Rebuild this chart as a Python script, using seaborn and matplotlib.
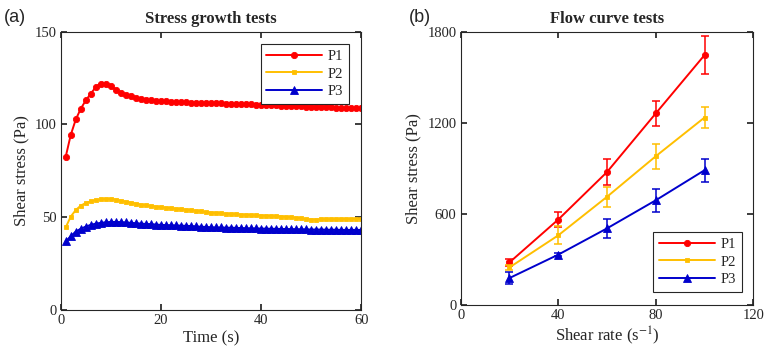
import numpy as np
import pandas as pd
import matplotlib
matplotlib.use("Agg")
import matplotlib.pyplot as plt
import seaborn as sns

# ---- stress growth data (shear stress in Pa, sampled every second) ----
time_s = list(range(1, 61))
p1_growth = [82.7, 94.4, 102.7, 108.5, 113.0, 116.6, 120.2, 122.0, 122.0, 120.6,
             118.8, 117.0, 116.1, 115.3, 114.4, 113.5, 113.2, 113.0, 112.8, 112.6,
             112.4, 112.2, 112.1, 112.0, 111.9, 111.8, 111.7, 111.6, 111.6, 111.5,
             111.4, 111.4, 111.3, 111.2, 111.1, 111.0, 110.9, 110.8, 110.7, 110.6,
             110.5, 110.4, 110.3, 110.2, 110.0, 109.9, 109.8, 109.7, 109.6, 109.5,
             109.4, 109.3, 109.3, 109.2, 109.1, 109.0, 109.0, 108.9, 108.9, 108.8]
p2_growth = [44.6, 50.4, 53.9, 56.3, 57.7, 58.6, 59.3, 59.6, 59.8, 59.8,
             59.5, 58.9, 58.4, 57.9, 57.3, 56.8, 56.4, 56.1, 55.7, 55.4,
             55.1, 54.8, 54.6, 54.3, 54.1, 53.8, 53.5, 53.2, 52.8, 52.5,
             52.3, 52.1, 51.9, 51.8, 51.6, 51.4, 51.3, 51.2, 51.0, 50.9,
             50.8, 50.6, 50.5, 50.4, 50.2, 50.0, 49.7, 49.4, 49.0, 48.8,
             48.8, 48.9, 48.9, 48.9, 48.9, 49.0, 49.0, 49.0, 49.1, 49.1]
p3_growth = [37.0, 39.8, 42.3, 43.8, 45.0, 45.9, 46.6, 47.0, 47.3, 47.5,
             47.5, 47.4, 47.2, 47.0, 46.8, 46.6, 46.4, 46.3, 46.1, 45.9,
             45.8, 45.7, 45.6, 45.5, 45.4, 45.3, 45.1, 44.9, 44.8, 44.6,
             44.5, 44.5, 44.4, 44.4, 44.3, 44.2, 44.1, 44.0, 44.0, 43.9,
             43.9, 43.8, 43.8, 43.7, 43.7, 43.6, 43.6, 43.5, 43.5, 43.4,
             43.4, 43.4, 43.3, 43.3, 43.3, 43.2, 43.2, 43.2, 43.2, 43.2]

# ---- flow curve data (mean and standard deviation, Pa) ----
shear_rate = [20, 40, 60, 80, 100]
p1_flow = [281, 563, 876, 1262, 1646]
p1_err = [25, 47, 85, 82, 125]
p2_flow = [248, 459, 713, 980, 1235]
p2_err = [15, 60, 64, 82, 72]
p3_flow = [178, 332, 505, 690, 888]
p3_err = [38, 12, 65, 76, 77]

series = ["P1", "P2", "P3"]
colors = {"P1": "#ff0000", "P2": "#ffbf00", "P3": "#0000cc"}
markers = {"P1": "o", "P2": "s", "P3": "^"}
msizes = {"P1": 4.5, "P2": 3.5, "P3": 5.5}

growth = pd.concat([
    pd.DataFrame({"t": time_s, "stress": v, "sample": s})
    for s, v in zip(series, [p1_growth, p2_growth, p3_growth])
])
flow = pd.concat([
    pd.DataFrame({"rate": shear_rate, "stress": v, "err": e, "sample": s})
    for s, v, e in zip(series, [p1_flow, p2_flow, p3_flow],
                       [p1_err, p2_err, p3_err])
])

sns.set_theme(style="ticks")
plt.rcParams["font.family"] = ["Liberation Serif", "DejaVu Serif"]
plt.rcParams["mathtext.fontset"] = "stix"
plt.rcParams["axes.linewidth"] = 0.8
plt.rcParams["xtick.direction"] = "in"
plt.rcParams["ytick.direction"] = "in"
plt.rcParams["xtick.top"] = True
plt.rcParams["ytick.right"] = True
plt.rcParams["xtick.major.size"] = 4
plt.rcParams["ytick.major.size"] = 4

fig = plt.figure(figsize=(7.64, 3.56), dpi=100)
ax1 = fig.add_axes([0.0795, 0.129, 0.3935, 0.782])
ax2 = fig.add_axes([0.603, 0.143, 0.383, 0.768])

FS = 10.5
LFS = 12

legend_kw = dict(fontsize=FS, frameon=True, fancybox=False, framealpha=1,
                 edgecolor="#262626", handlelength=3.8, borderpad=0.4,
                 labelspacing=0.3, handletextpad=0.4, borderaxespad=0)

# panel (a): stress growth
for s in series:
    d = growth[growth["sample"] == s]
    sns.lineplot(data=d, x="t", y="stress", ax=ax1, color=colors[s],
                 marker=markers[s], markersize=msizes[s], markeredgewidth=0.6,
                 markeredgecolor=colors[s], linewidth=1.4, label=s,
                 estimator=None)
ax1.set_xlim(0, 60)
ax1.set_ylim(0, 150)
ax1.set_xticks([0, 20, 40, 60])
ax1.set_yticks([0, 50, 100, 150])
ax1.set_xlabel("Time (s)", fontsize=LFS, labelpad=2)
ax1.set_ylabel("Shear stress (Pa)", fontsize=LFS, labelpad=4)
ax1.set_title("Stress growth tests", fontsize=LFS, fontweight="bold", pad=6)
ax1.tick_params(labelsize=FS, colors="#262626", pad=3)
leg1 = ax1.legend(loc="upper right", bbox_to_anchor=(0.959, 0.956), **legend_kw)
leg1.get_frame().set_linewidth(0.8)

# panel (b): flow curves with error bars
for s in series:
    d = flow[flow["sample"] == s]
    sns.lineplot(data=d, x="rate", y="stress", ax=ax2, color=colors[s],
                 marker=markers[s], markersize=msizes[s], markeredgewidth=0.6,
                 markeredgecolor=colors[s], linewidth=1.4, label=s,
                 estimator=None)
    ax2.errorbar(d["rate"], d["stress"], yerr=d["err"], fmt="none",
                 ecolor=colors[s], elinewidth=1.1, capsize=3, capthick=1.1)
ax2.set_xlim(0, 120)
ax2.set_ylim(0, 1800)
ax2.set_xticks([0, 40, 80, 120])
ax2.set_yticks([0, 600, 1200, 1800])
ax2.set_xlabel(r"Shear rate (s$^{-1}$)", fontsize=LFS, labelpad=2)
ax2.set_ylabel("Shear stress (Pa)", fontsize=LFS, labelpad=4)
ax2.set_title("Flow curve tests", fontsize=LFS, fontweight="bold", pad=6)
ax2.tick_params(labelsize=FS, colors="#262626", pad=3)
leg2 = ax2.legend(loc="lower right", bbox_to_anchor=(0.961, 0.048), **legend_kw)
leg2.get_frame().set_linewidth(0.8)

for ax in (ax1, ax2):
    for sp in ax.spines.values():
        sp.set_visible(True)
        sp.set_color("#262626")

fig.text(0.005, 0.975, "(a)", fontsize=13, family=["Liberation Sans", "DejaVu Sans"],
         va="top", ha="left")
fig.text(0.535, 0.975, "(b)", fontsize=13, family=["Liberation Sans", "DejaVu Sans"],
         va="top", ha="left")

fig.savefig("out.png", dpi=100)
